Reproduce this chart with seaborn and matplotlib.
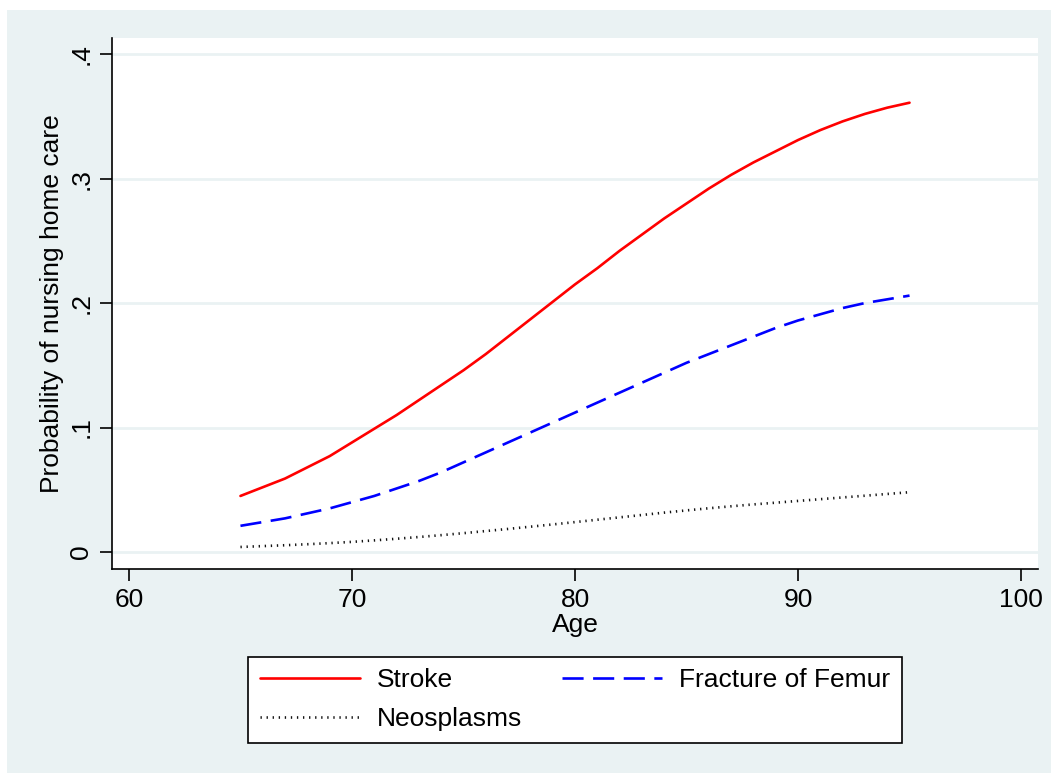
import numpy as np
import pandas as pd
import seaborn as sns
import matplotlib.pyplot as plt
from matplotlib.patches import Rectangle

sns.set_style('white')
plt.rcParams['font.family'] = ['Liberation Sans', 'DejaVu Sans']
plt.rcParams['text.color'] = 'black'
plt.rcParams['axes.labelcolor'] = 'black'
plt.rcParams['xtick.color'] = 'black'
plt.rcParams['ytick.color'] = 'black'

age = list(range(65, 96))
stroke = [0.045, 0.052, 0.059, 0.068, 0.077, 0.088, 0.099, 0.110, 0.122, 0.134,
          0.146, 0.159, 0.173, 0.187, 0.201, 0.215, 0.228, 0.242, 0.255, 0.268,
          0.280, 0.292, 0.303, 0.313, 0.322, 0.331, 0.339, 0.346, 0.352, 0.357, 0.361]
femur = [0.021, 0.024, 0.027, 0.031, 0.035, 0.040, 0.045, 0.051, 0.057, 0.064,
         0.072, 0.080, 0.088, 0.096, 0.104, 0.112, 0.120, 0.128, 0.136, 0.144,
         0.152, 0.159, 0.166, 0.173, 0.180, 0.186, 0.191, 0.196, 0.200, 0.203, 0.206]
neo = [0.0040, 0.0047, 0.0054, 0.0062, 0.0071, 0.0081, 0.0093, 0.0106, 0.0120, 0.0135,
       0.0151, 0.0168, 0.0185, 0.0203, 0.0221, 0.0240, 0.0259, 0.0278, 0.0297, 0.0316,
       0.0334, 0.0351, 0.0367, 0.0382, 0.0396, 0.0410, 0.0424, 0.0438, 0.0452, 0.0466, 0.0480]

labels = ['Stroke', 'Fracture of Femur', 'Neosplasms']
xticks = [60, 70, 80, 90, 100]
yticks = [0, 0.1, 0.2, 0.3, 0.4]
ytick_labels = ['0', '.1', '.2', '.3', '.4']

df = pd.concat([
    pd.DataFrame({'Age': age, 'p': s, 'cause': lab})
    for s, lab in zip([stroke, femur, neo], labels)
], ignore_index=True)

bg = '#eaf2f3'
fs = 19
fig = plt.figure(figsize=(10.51, 7.73), dpi=100, facecolor='white')
fig.patches.append(Rectangle((7 / 1051, 0), 1, 1 - 10 / 773, transform=fig.transFigure,
                             facecolor=bg, edgecolor='none', zorder=-10))
ax = fig.add_axes([112 / 1051, 1 - 569 / 773, (1038 - 112) / 1051, (569 - 38) / 773])

palette = {'Stroke': '#ff0000', 'Fracture of Femur': '#0000ff', 'Neosplasms': '#111111'}
dashes = {'Stroke': '', 'Fracture of Femur': (8, 3.6), 'Neosplasms': (0.5, 1.8)}
sns.lineplot(data=df, x='Age', y='p', hue='cause', style='cause', palette=palette,
             dashes=dashes, linewidth=1.9, legend=False, ax=ax)

ax.set_xlim(59.24, 100.76)
ax.set_ylim(-0.0137, 0.413)
ax.set_xticks(xticks)
ax.set_yticks(yticks)
ax.set_yticklabels(ytick_labels, rotation=90, va='center')
ax.tick_params(axis='both', direction='out', length=8.5, width=1.2,
               labelsize=fs, pad=5, left=True, bottom=True)
ax.grid(axis='y', color=bg, linewidth=2)
ax.set_axisbelow(True)
for side in ['top', 'right']:
    ax.spines[side].set_visible(False)
for side in ['left', 'bottom']:
    ax.spines[side].set_color('black')
    ax.spines[side].set_linewidth(1.2)

ax.set_xlabel('Age', fontsize=fs, labelpad=1)
ax.set_ylabel('Probability of nursing home care', fontsize=fs, labelpad=4)

lines = ax.get_lines()
handles = [lines[0], lines[2], lines[1]]
leg_labels = [labels[0], labels[2], labels[1]]
leg = ax.legend(handles, leg_labels, loc='upper center', bbox_to_anchor=(0.5, -0.14),
                ncol=2, fontsize=fs, handlelength=3.8, handletextpad=0.65,
                columnspacing=1.5, borderpad=0.45, labelspacing=0.55,
                frameon=True, fancybox=False, framealpha=1, edgecolor='black')
leg.get_frame().set_linewidth(1.2)

fig.savefig('out.png', dpi=100, facecolor=fig.get_facecolor())
